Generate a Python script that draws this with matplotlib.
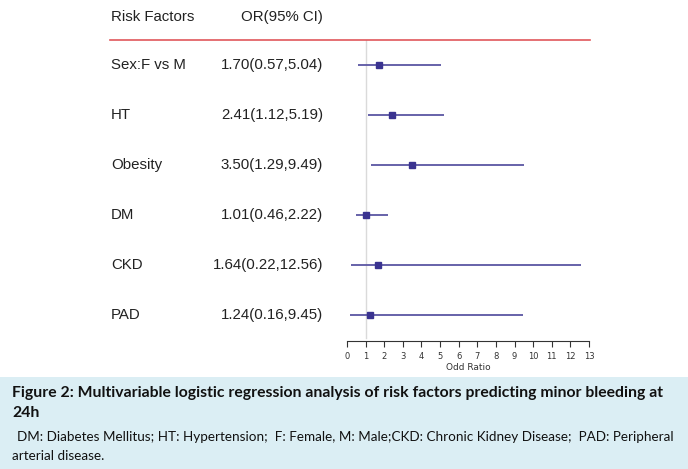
import matplotlib.pyplot as plt
from matplotlib.transforms import blended_transform_factory
from matplotlib.patches import Rectangle

# Data
factors = ['Sex:F vs M', 'HT', 'Obesity', 'DM', 'CKD', 'PAD']
odds = [1.70, 2.41, 3.50, 1.01, 1.64, 1.24]
lower = [0.57, 1.12, 1.29, 0.46, 0.22, 0.16]
upper = [5.04, 5.19, 9.49, 2.22, 12.56, 9.45]
xticks = list(range(0, 14))

W, H = 688, 469
fig = plt.figure(figsize=(W / 100, H / 100), dpi=100)

# axes placed in pixel terms: x 0..13 -> 347..589 px, top 40 px, bottom 341 px
left, right, top, bottom = 347, 589, 40, 341
ax = fig.add_axes([left / W, 1 - bottom / H, (right - left) / W, (bottom - top) / H])
rows = list(range(len(factors)))
ax.set_xlim(0, 13)
ax.set_ylim((bottom - 65) / 50, -0.5)

line_col = '#5b56a3'
box_col = '#3a3390'
ax.axvline(1, ymin=(bottom - 338) / (bottom - top), ymax=1, color='#dadada', lw=1, zorder=1)
ax.hlines(rows, lower, upper, color=line_col, lw=1.3, zorder=2)
ax.plot(odds, rows, 's', color=box_col, ms=4, zorder=3)

for s in ['top', 'right', 'left']:
    ax.spines[s].set_visible(False)
ax.spines['bottom'].set_color('#333333')
ax.spines['bottom'].set_linewidth(0.8)
ax.set_yticks([])
ax.set_xticks(xticks)
ax.tick_params(axis='x', direction='out', length=4, width=0.8, color='#333333',
               labelsize=6, labelcolor='#333333', pad=4)
for lab in ax.get_xticklabels():
    lab.set_family('Liberation Sans Narrow')
ax.set_xlabel('Odd Ratio', fontsize=6.5, color='#333333', labelpad=1,
              family='Liberation Sans Narrow')

# text columns
tr = blended_transform_factory(fig.transFigure, ax.transData)
ci_text = [f'{o:.2f}({l:.2f},{u:.2f})' for o, l, u in zip(odds, lower, upper)]
fs = 10.8
for r, name, ci in zip(rows, factors, ci_text):
    fig.text(111 / W, r, name, transform=tr, fontsize=fs, family='Liberation Sans',
             va='center', ha='left', color='#222222')
    fig.text(323 / W, r, ci, transform=tr, fontsize=fs, family='Liberation Sans',
             va='center', ha='right', color='#222222')

fig.text(111 / W, 1 - 17 / H, 'Risk Factors', fontsize=fs, family='Liberation Sans',
         va='center', ha='left', color='#222222')
fig.text(323 / W, 1 - 17 / H, 'OR(95% CI)', fontsize=fs, family='Liberation Sans',
         va='center', ha='right', color='#222222')
fig.add_artist(plt.Line2D([110 / W, 590 / W], [1 - 40 / H, 1 - 40 / H], color='#e0575b', lw=1.2))

# caption box
fig.add_artist(Rectangle((0, 0), 1, 1 - 377 / H, transform=fig.transFigure,
                         facecolor='#dbeef4', edgecolor='none', zorder=0))
fig.text(12 / W, 1 - 393 / H, 'Figure 2: Multivariable logistic regression analysis of risk factors '
         'predicting minor bleeding at', fontsize=11.3, family='Lato', weight='bold',
         va='center', ha='left', color='#111111')
fig.text(12 / W, 1 - 413 / H, '24h', fontsize=11.3, family='Lato', weight='bold',
         va='center', ha='left', color='#111111')
fig.text(17 / W, 1 - 437 / H, 'DM: Diabetes Mellitus; HT: Hypertension;  F: Female, M: Male;CKD: '
         'Chronic Kidney Disease;  PAD: Peripheral', fontsize=9.7, family='Lato',
         va='center', ha='left', color='#111111')
fig.text(12 / W, 1 - 456 / H, 'arterial disease.', fontsize=9.7, family='Lato',
         va='center', ha='left', color='#111111')

fig.savefig('out.png', dpi=100)
